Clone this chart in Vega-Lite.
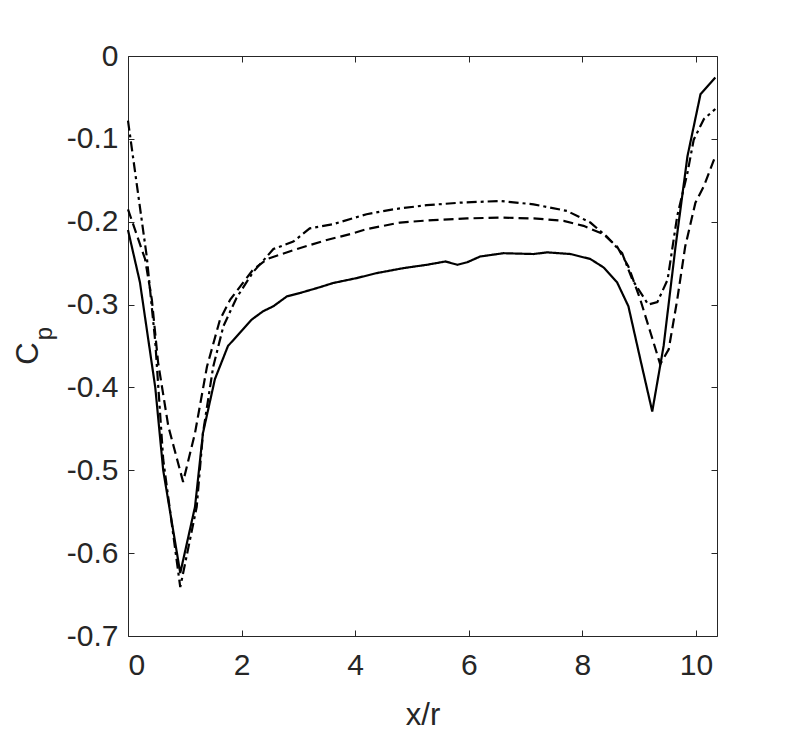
{
  "$schema": "https://vega.github.io/schema/vega-lite/v6.json",
  "width": 589,
  "height": 580,
  "autosize": {"type": "none"},
  "padding": {"left": 128, "top": 56, "right": 76, "bottom": 97},
  "background": "white",
  "config": {
    "view": {"stroke": "#262626", "strokeWidth": 1},
    "axis": {
      "domain": false,
      "grid": false,
      "tickColor": "#262626",
      "tickSize": -6,
      "tickWidth": 1,
      "labelFont": "Liberation Sans",
      "labelFontSize": 30,
      "labelColor": "#262626",
      "titleFont": "Liberation Sans",
      "titleFontSize": 31,
      "titleFontWeight": "normal",
      "titleColor": "#262626"
    }
  },
  "data": {
    "values": [
      {"s": "solid", "x": 0, "cp": -0.21},
      {"s": "solid", "x": 0.21, "cp": -0.273},
      {"s": "solid", "x": 0.48, "cp": -0.4},
      {"s": "solid", "x": 0.62, "cp": -0.5},
      {"s": "solid", "x": 0.92, "cp": -0.624},
      {"s": "solid", "x": 1.18, "cp": -0.544},
      {"s": "solid", "x": 1.32, "cp": -0.455},
      {"s": "solid", "x": 1.53, "cp": -0.39},
      {"s": "solid", "x": 1.76, "cp": -0.35},
      {"s": "solid", "x": 1.97, "cp": -0.334},
      {"s": "solid", "x": 2.18, "cp": -0.318},
      {"s": "solid", "x": 2.38, "cp": -0.308},
      {"s": "solid", "x": 2.56, "cp": -0.302},
      {"s": "solid", "x": 2.8, "cp": -0.29},
      {"s": "solid", "x": 3.03, "cp": -0.286},
      {"s": "solid", "x": 3.38, "cp": -0.279},
      {"s": "solid", "x": 3.61, "cp": -0.274},
      {"s": "solid", "x": 4.03, "cp": -0.268},
      {"s": "solid", "x": 4.38, "cp": -0.262},
      {"s": "solid", "x": 4.85, "cp": -0.256},
      {"s": "solid", "x": 5.26, "cp": -0.252},
      {"s": "solid", "x": 5.59, "cp": -0.248},
      {"s": "solid", "x": 5.8, "cp": -0.252},
      {"s": "solid", "x": 5.97, "cp": -0.249},
      {"s": "solid", "x": 6.2, "cp": -0.242},
      {"s": "solid", "x": 6.61, "cp": -0.238},
      {"s": "solid", "x": 7.14, "cp": -0.239},
      {"s": "solid", "x": 7.38, "cp": -0.237},
      {"s": "solid", "x": 7.79, "cp": -0.239},
      {"s": "solid", "x": 8.14, "cp": -0.245},
      {"s": "solid", "x": 8.37, "cp": -0.255},
      {"s": "solid", "x": 8.61, "cp": -0.273},
      {"s": "solid", "x": 8.81, "cp": -0.302},
      {"s": "solid", "x": 9.02, "cp": -0.366},
      {"s": "solid", "x": 9.23, "cp": -0.429},
      {"s": "solid", "x": 9.43, "cp": -0.35},
      {"s": "solid", "x": 9.64, "cp": -0.23},
      {"s": "solid", "x": 9.85, "cp": -0.121},
      {"s": "solid", "x": 10.08, "cp": -0.046},
      {"s": "solid", "x": 10.34, "cp": -0.026},

      {"s": "dashed", "x": 0, "cp": -0.185},
      {"s": "dashed", "x": 0.3, "cp": -0.245},
      {"s": "dashed", "x": 0.42, "cp": -0.294},
      {"s": "dashed", "x": 0.53, "cp": -0.37},
      {"s": "dashed", "x": 0.71, "cp": -0.447},
      {"s": "dashed", "x": 0.97, "cp": -0.514},
      {"s": "dashed", "x": 1.18, "cp": -0.455},
      {"s": "dashed", "x": 1.39, "cp": -0.375},
      {"s": "dashed", "x": 1.62, "cp": -0.318},
      {"s": "dashed", "x": 1.8, "cp": -0.294},
      {"s": "dashed", "x": 2.2, "cp": -0.258},
      {"s": "dashed", "x": 2.45, "cp": -0.245},
      {"s": "dashed", "x": 2.97, "cp": -0.233},
      {"s": "dashed", "x": 3.5, "cp": -0.222},
      {"s": "dashed", "x": 3.91, "cp": -0.215},
      {"s": "dashed", "x": 4.2, "cp": -0.209},
      {"s": "dashed", "x": 4.79, "cp": -0.201},
      {"s": "dashed", "x": 5.37, "cp": -0.198},
      {"s": "dashed", "x": 5.97, "cp": -0.196},
      {"s": "dashed", "x": 6.55, "cp": -0.195},
      {"s": "dashed", "x": 7.14, "cp": -0.196},
      {"s": "dashed", "x": 7.67, "cp": -0.199},
      {"s": "dashed", "x": 8.02, "cp": -0.205},
      {"s": "dashed", "x": 8.37, "cp": -0.215},
      {"s": "dashed", "x": 8.61, "cp": -0.23},
      {"s": "dashed", "x": 8.81, "cp": -0.254},
      {"s": "dashed", "x": 9.02, "cp": -0.294},
      {"s": "dashed", "x": 9.2, "cp": -0.334},
      {"s": "dashed", "x": 9.37, "cp": -0.372},
      {"s": "dashed", "x": 9.52, "cp": -0.354},
      {"s": "dashed", "x": 9.67, "cp": -0.294},
      {"s": "dashed", "x": 9.81, "cp": -0.23},
      {"s": "dashed", "x": 9.99, "cp": -0.177},
      {"s": "dashed", "x": 10.14, "cp": -0.157},
      {"s": "dashed", "x": 10.34, "cp": -0.121},

      {"s": "dashdot", "x": 0, "cp": -0.078},
      {"s": "dashdot", "x": 0.33, "cp": -0.242},
      {"s": "dashdot", "x": 0.48, "cp": -0.345},
      {"s": "dashdot", "x": 0.62, "cp": -0.487},
      {"s": "dashdot", "x": 0.92, "cp": -0.641},
      {"s": "dashdot", "x": 1.21, "cp": -0.544},
      {"s": "dashdot", "x": 1.32, "cp": -0.455},
      {"s": "dashdot", "x": 1.5, "cp": -0.375},
      {"s": "dashdot", "x": 1.68, "cp": -0.326},
      {"s": "dashdot", "x": 1.91, "cp": -0.292},
      {"s": "dashdot", "x": 2.2, "cp": -0.261},
      {"s": "dashdot", "x": 2.56, "cp": -0.233},
      {"s": "dashdot", "x": 2.91, "cp": -0.224},
      {"s": "dashdot", "x": 3.2, "cp": -0.208},
      {"s": "dashdot", "x": 3.61, "cp": -0.203},
      {"s": "dashdot", "x": 4.2, "cp": -0.191},
      {"s": "dashdot", "x": 4.67, "cp": -0.185},
      {"s": "dashdot", "x": 5.26, "cp": -0.18},
      {"s": "dashdot", "x": 5.85, "cp": -0.177},
      {"s": "dashdot", "x": 6.55, "cp": -0.175},
      {"s": "dashdot", "x": 7.14, "cp": -0.179},
      {"s": "dashdot", "x": 7.73, "cp": -0.187},
      {"s": "dashdot", "x": 8.14, "cp": -0.201},
      {"s": "dashdot", "x": 8.43, "cp": -0.218},
      {"s": "dashdot", "x": 8.7, "cp": -0.238},
      {"s": "dashdot", "x": 8.88, "cp": -0.27},
      {"s": "dashdot", "x": 9.16, "cp": -0.3},
      {"s": "dashdot", "x": 9.32, "cp": -0.297},
      {"s": "dashdot", "x": 9.5, "cp": -0.27},
      {"s": "dashdot", "x": 9.67, "cp": -0.193},
      {"s": "dashdot", "x": 9.85, "cp": -0.141},
      {"s": "dashdot", "x": 9.96, "cp": -0.101},
      {"s": "dashdot", "x": 10.14, "cp": -0.076},
      {"s": "dashdot", "x": 10.34, "cp": -0.064}
    ]
  },
  "layer": [
    {
      "mark": {"type": "line", "color": "black", "strokeWidth": 2.2},
      "encoding": {
        "x": {
          "field": "x", "type": "quantitative",
          "scale": {"domain": [0, 10.37], "nice": false, "zero": false},
          "axis": {
            "orient": "bottom",
            "values": [0, 2, 4, 6, 8, 10],
            "labelPadding": 20,
            "title": "x/r",
            "titleBaseline": "alphabetic",
            "titleY": 88
          }
        },
        "y": {
          "field": "cp", "type": "quantitative",
          "scale": {"domain": [-0.7, 0], "nice": false, "zero": false},
          "axis": {
            "orient": "left",
            "values": [-0.7, -0.6, -0.5, -0.4, -0.3, -0.2, -0.1, 0],
            "labelExpr": "replace(format(datum.value, '.1~f'), '\u2212', '-')",
            "labelPadding": 16,
            "title": "C",
            "titleAngle": -90,
            "titleAlign": "center",
            "titleBaseline": "alphabetic",
            "titleX": -91,
            "titleY": 297
          }
        },
        "strokeDash": {
          "field": "s", "type": "nominal",
          "scale": {"domain": ["solid", "dashed", "dashdot"], "range": [[1, 0], [10, 5], [10, 4, 3, 4]]},
          "legend": null
        }
      }
    },
    {
      "mark": {"type": "line", "strokeOpacity": 0},
      "encoding": {
        "x": {
          "field": "x", "type": "quantitative",
          "axis": {"orient": "top", "values": [0, 2, 4, 6, 8, 10], "labels": false, "title": null}
        },
        "y": {
          "field": "cp", "type": "quantitative",
          "axis": {"orient": "right", "values": [-0.7, -0.6, -0.5, -0.4, -0.3, -0.2, -0.1, 0], "labels": false, "title": null}
        },
        "detail": {"field": "s", "type": "nominal"}
      }
    },
    {
      "mark": {"type": "line", "strokeOpacity": 0},
      "encoding": {
        "x": {"field": "x", "type": "quantitative", "axis": null},
        "y": {
          "field": "cp", "type": "quantitative",
          "axis": {
            "orient": "left", "labels": false, "ticks": false, "domain": false,
            "title": "p",
            "titleFontSize": 24,
            "titleAngle": -90,
            "titleAlign": "center",
            "titleBaseline": "alphabetic",
            "titleX": -77,
            "titleY": 277
          }
        },
        "detail": {"field": "s", "type": "nominal"}
      }
    }
  ],
  "resolve": {"axis": {"x": "independent", "y": "independent"}}
}
